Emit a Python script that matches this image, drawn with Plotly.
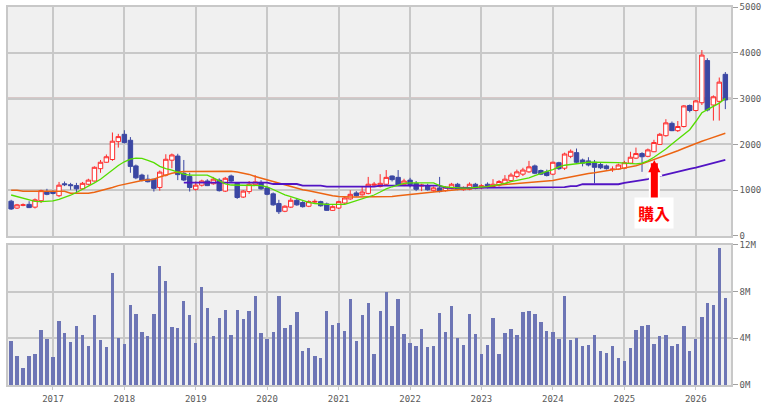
import pandas as pd
import plotly.graph_objects as go

# ---------------- data ----------------
months = pd.date_range("2016-06-01", "2026-06-01", freq="MS")

opens = [760, 610, 670, 690, 630, 770, 970, 960, 880, 1140, 1120, 1100, 1030, 1130, 1200, 1470, 1610, 1670, 2060, 2220,
         2090, 1530, 1330, 1240, 1240, 1060, 1330, 1655, 1745, 1370, 1300, 1020, 1110, 1200, 1140, 1220, 980, 1310, 1150, 850,
         970, 1120, 1170, 1050, 920, 710, 540, 630, 780, 730, 650, 740, 750, 700, 560, 610, 720, 810, 940, 900,
         930, 1110, 1080, 1130, 1310, 1280, 1120, 1220, 1150, 1090, 1100, 990, 1050, 990, 1040, 1130, 1010, 1020, 1130, 1050,
         1130, 1080, 1110, 1150, 1210, 1300, 1350, 1400, 1530, 1430, 1400, 1350, 1600, 1480, 1740, 1820, 1660, 1640, 1610, 1560,
         1530, 1450, 1460, 1480, 1590, 1700, 1800, 1740, 1840, 2000, 2190, 2460, 2300, 2390, 2850, 2740, 2910, 3830, 2860, 2940,
         3530]
highs = [790, 700, 710, 760, 820, 1010, 1030, 1000, 1180, 1190, 1160, 1160, 1180, 1250, 1520, 1660, 1780, 2260, 2230, 2310,
         2160, 1560, 1360, 1340, 1250, 1430, 1785, 1800, 1795, 1660, 1380, 1190, 1230, 1240, 1290, 1260, 1290, 1340, 1160, 1000,
         1200, 1330, 1220, 1080, 950, 790, 670, 840, 830, 760, 780, 800, 770, 730, 670, 770, 850, 1000, 980, 1080,
         1290, 1180, 1350, 1440, 1320, 1440, 1250, 1270, 1200, 1140, 1140, 1080, 1290, 1090, 1160, 1160, 1080, 1170, 1160, 1130,
         1170, 1240, 1220, 1330, 1380, 1450, 1490, 1640, 1560, 1450, 1450, 1620, 1620, 1820, 1890, 1910, 1690, 1720, 1660, 1600,
         1560, 1520, 1580, 1640, 1840, 1930, 1830, 1910, 2100, 2250, 2550, 2500, 2510, 2860, 2870, 2970, 4060, 3880, 3070, 3460,
         3580]
lows = [570, 590, 650, 610, 600, 720, 890, 910, 850, 1090, 1010, 950, 1010, 1110, 1190, 1380, 1600, 1640, 1930, 2020,
        1380, 1240, 1190, 1170, 970, 990, 1300, 1480, 1220, 1200, 970, 990, 1080, 1090, 1120, 970, 960, 1180, 810, 830,
        920, 1100, 1010, 890, 660, 480, 520, 610, 660, 620, 630, 700, 640, 550, 550, 590, 700, 790, 860, 880,
        910, 1070, 1060, 1100, 1190, 1090, 1090, 1060, 980, 980, 990, 970, 950, 970, 1020, 1000, 990, 1000, 1020, 1020,
        1040, 1060, 1080, 1130, 1190, 1260, 1310, 1380, 1350, 1330, 1300, 1330, 1440, 1440, 1700, 1580, 1520, 1520, 1150, 1460,
        1450, 1400, 1440, 1460, 1570, 1680, 1400, 1720, 1830, 1990, 2170, 2290, 2270, 2370, 2700, 2720, 2860, 2720, 2520, 2520,
        2770]
closes = [590, 680, 680, 620, 790, 990, 910, 930, 1110, 1120, 1100, 1030, 1150, 1220, 1500, 1610, 1730, 2070, 2170, 2040,
          1520, 1270, 1215, 1185, 1040, 1395, 1675, 1770, 1340, 1222, 1060, 1110, 1200, 1100, 1240, 990, 1260, 1200, 840, 980,
          1130, 1180, 1030, 910, 680, 530, 650, 780, 680, 640, 750, 755, 660, 560, 640, 750, 830, 910, 880, 960,
          1130, 1130, 1150, 1280, 1230, 1120, 1200, 1120, 1020, 1110, 1010, 1050, 970, 1070, 1130, 1020, 1060, 1130, 1040, 1100,
          1070, 1130, 1190, 1240, 1330, 1400, 1440, 1510, 1370, 1350, 1320, 1610, 1470, 1790, 1850, 1610, 1590, 1550, 1500, 1490,
          1470, 1460, 1550, 1600, 1720, 1800, 1730, 1880, 2040, 2220, 2470, 2300, 2390, 2840, 2740, 2950, 3950, 2750, 3040, 3360,
          2970]

ma_short = [895, 860, 820, 780, 755, 750, 755, 765, 800, 840, 890, 950, 1020, 1080, 1160, 1240, 1340, 1440, 1540, 1620,
            1680, 1700, 1695, 1650, 1600, 1520, 1470, 1440, 1390, 1350, 1330, 1330, 1330, 1330, 1270, 1200, 1140, 1113, 1113, 1113,
            1113, 1110, 1100, 1075, 1010, 950, 900, 860, 815, 770, 735, 710, 695, 690, 690, 690, 690, 730, 775, 810,
            850, 895, 960, 1030, 1075, 1110, 1150, 1160, 1160, 1160, 1160, 1160, 1100, 1070, 1060, 1050, 1045, 1050, 1055, 1065,
            1080, 1100, 1120, 1150, 1185, 1210, 1240, 1270, 1320, 1370, 1410, 1450, 1510, 1545, 1565, 1585, 1600, 1610, 1610, 1610,
            1610, 1605, 1600, 1590, 1580, 1575, 1590, 1640, 1720, 1805, 1900, 2010, 2110, 2220, 2320, 2500, 2690, 2760, 2830, 2900,
            3005]
ma_mid = [1000, 1000, 975, 975, 975, 975, 975, 975, 975, 975, 935, 935, 935, 935, 955, 985, 1020, 1060, 1100, 1130,
          1160, 1190, 1210, 1225, 1240, 1290, 1330, 1370, 1390, 1410, 1410, 1410, 1410, 1410, 1410, 1410, 1425, 1415, 1395, 1370,
          1345, 1300, 1265, 1225, 1190, 1150, 1110, 1080, 1045, 1010, 990, 960, 930, 905, 880, 865, 850, 850, 850, 850,
          850, 850, 850, 855, 860, 880, 895, 905, 925, 935, 945, 955, 975, 990, 1000, 1010, 1035, 1045, 1055, 1065,
          1080, 1100, 1115, 1125, 1135, 1140, 1160, 1170, 1175, 1180, 1195, 1210, 1240, 1265, 1300, 1315, 1340, 1365, 1380, 1405,
          1425, 1445, 1460, 1485, 1510, 1535, 1575, 1620, 1670, 1717, 1760, 1805, 1860, 1915, 1965, 2030, 2070, 2110, 2155, 2200,
          2245]
ma_long_start = 29
ma_long = [1165, 1165, 1165, 1165, 1165, 1165, 1165, 1165, 1165, 1165, 1165, 1165, 1165, 1165, 1165,
           1135, 1135, 1135, 1135, 1135, 1100, 1100, 1100, 1100, 1080, 1080, 1080, 1080, 1080, 1080, 1080, 1080, 1080,
           1100, 1100, 1100, 1100, 1100, 1100, 1100, 1100, 1100, 1100, 1100,
           1050, 1050, 1050, 1050, 1050, 1050, 1050, 1050, 1050, 1050, 1050, 1050, 1050, 1050, 1050, 1050, 1050,
           1065, 1065, 1065, 1065, 1090, 1090, 1130, 1130, 1130, 1130, 1130, 1130, 1130, 1160, 1185, 1200, 1220, 1240,
           1280, 1310, 1340, 1375, 1405, 1435, 1465, 1495, 1530, 1560, 1590, 1625, 1660]

volume_m = [3.75, 2.47, 1.45, 2.47, 2.64, 4.69, 3.92, 2.39, 5.45, 4.43, 3.66, 5.03, 4.26, 3.32, 5.97, 3.84, 3.24, 9.63, 4.0, 3.49,
            6.9, 6.05, 4.52, 4.18, 6.05, 10.23, 8.95, 4.94, 4.86, 7.16, 5.97, 3.58, 8.44, 6.56, 4.18, 5.71, 6.39, 4.26, 6.39, 5.63,
            6.31, 7.67, 4.43, 3.92, 4.52, 7.67, 4.86, 5.11, 6.22, 2.9, 3.15, 2.47, 2.3, 6.31, 5.11, 5.28, 4.6, 7.41, 3.75, 5.97,
            7.07, 2.64, 6.31, 7.93, 5.03, 7.33, 4.35, 3.58, 3.32, 4.77, 3.24, 3.32, 6.14, 4.52, 6.73, 4.0, 3.41, 6.05, 4.35, 2.64,
            3.41, 5.71, 2.64, 4.43, 4.77, 4.26, 6.22, 6.31, 6.05, 5.37, 4.6, 4.52, 3.92, 7.67, 3.84, 4.0, 3.32, 3.41, 4.26, 2.9,
            2.73, 3.32, 2.3, 2.05, 3.15, 4.69, 5.03, 5.11, 3.49, 4.18, 4.26, 3.32, 3.49, 5.03, 2.9, 3.92, 5.8, 6.99, 6.9, 11.76,
            7.5]

price_ticks = [0, 1000, 2000, 3000, 4000, 5000]
vol_ticks = [0, 4e6, 8e6, 12e6]
vol_labels = ["0M", "4M", "8M", "12M"]
ref_price = 3000
buy_date = "2025-06-03"
buy_price = 1660
buy_label = "購入"

# ---------------- styles ----------------
UP = "#ff2a2a"
DOWN = "#3b47a3"
VOL = "#6d75b5"
GRID = "#c8c8c8"
TICKFONT = dict(family="DejaVu Sans Mono", size=9, color="#5a5a5a")
x_range = ["2016-05-16", "2026-06-30"]

fig = go.Figure()

fig.add_trace(go.Candlestick(
    x=months, open=opens, high=highs, low=lows, close=closes,
    increasing=dict(line=dict(color=UP, width=1), fillcolor="#ffffff"),
    decreasing=dict(line=dict(color=DOWN, width=1), fillcolor=DOWN),
    whiskerwidth=0, xaxis="x", yaxis="y", hoverinfo="skip"))

fig.add_trace(go.Scatter(x=months, y=ma_mid, mode="lines",
                         line=dict(color="#ec6412", width=1.5), xaxis="x", yaxis="y"))
fig.add_trace(go.Scatter(x=months[ma_long_start:], y=ma_long, mode="lines",
                         line=dict(color="#5214c4", width=1.8), xaxis="x", yaxis="y"))
fig.add_trace(go.Scatter(x=months, y=ma_short, mode="lines",
                         line=dict(color="#55dd00", width=1.3), xaxis="x", yaxis="y"))

fig.add_trace(go.Bar(x=months, y=[v * 1e6 for v in volume_m], marker=dict(color=VOL, line=dict(width=0)),
                     width=17 * 86400000, xaxis="x2", yaxis="y2"))

axis_common = dict(showgrid=True, gridcolor=GRID, gridwidth=1.5, showline=True, mirror=True,
                   linecolor=GRID, linewidth=1.5, zeroline=False, tickfont=TICKFONT, automargin=False)

fig.update_layout(
    width=766, height=403,
    margin=dict(l=8, r=35, t=7, b=18),
    paper_bgcolor="white", plot_bgcolor="#f0f0f0",
    showlegend=False, boxgap=0.1, boxgroupgap=0.1, bargap=0,
    xaxis=dict(axis_common, domain=[0, 1], anchor="y", type="date", range=x_range,
               dtick="M12", tick0="2017-01-01", showticklabels=False, ticks="",
               rangeslider=dict(visible=False)),
    yaxis=dict(axis_common, domain=[0.3942, 1], anchor="x", side="right", range=[0, 5000],
               tickvals=price_ticks, ticks="outside", ticklen=5, tickcolor="#a0a0a0"),
    xaxis2=dict(axis_common, domain=[0, 1], anchor="y2", type="date", range=x_range, matches="x",
                dtick="M12", tick0="2017-01-01", tickformat="%Y", ticks="outside", ticklen=3,
                tickcolor=GRID, ticklabelstandoff=1),
    yaxis2=dict(axis_common, domain=[0, 0.3704], anchor="x2", side="right", range=[0, 12e6],
                tickvals=vol_ticks, ticktext=vol_labels, ticks="outside", ticklen=5, tickcolor="#a0a0a0"),
    shapes=[dict(type="line", xref="x domain", x0=0, x1=1, yref="y", y0=ref_price, y1=ref_price,
                 line=dict(color="#bfa0a0", width=2), layer="below")],
    annotations=[
        dict(x=buy_date, y=buy_price, xref="x", yref="y", text=" ", showarrow=True,
             ax=0, ay=54, arrowhead=2, arrowsize=0.3, arrowwidth=11, arrowcolor="white",
             font=dict(size=16)),
        dict(x=buy_date, y=buy_price, xref="x", yref="y", text="<b>" + buy_label + "</b>", showarrow=True,
             ax=0, ay=53, arrowhead=2, arrowsize=0.35, arrowwidth=7, arrowcolor="#ff0000",
             font=dict(family="Noto Sans CJK JP", size=16, color="#ff0000"),
             bgcolor="white", borderpad=3),
    ],
)

fig.write_html("out.html")
